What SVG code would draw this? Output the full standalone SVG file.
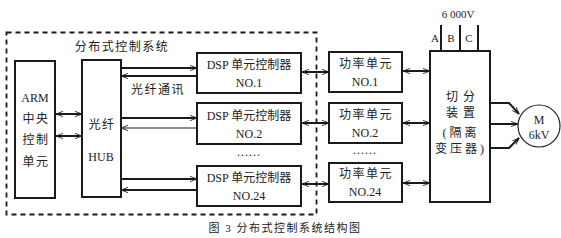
<svg xmlns="http://www.w3.org/2000/svg" width="561" height="238" viewBox="0 0 561 238">
<defs>
<marker id="ah" viewBox="0 0 8 8" refX="8" refY="4" markerWidth="7" markerHeight="7" markerUnits="userSpaceOnUse" orient="auto-start-reverse">
<path d="M0,1 L8,4 L0,7" fill="none" stroke="#222" stroke-width="1"/>
</marker>
</defs>
<style>
.box{fill:#fff;stroke:#1a1a1a;stroke-width:2}
.ln{fill:none;stroke:#1a1a1a;stroke-width:2}
.thin{fill:none;stroke:#1a1a1a;stroke-width:1.2}
.t{font-family:"Liberation Serif","Noto Sans CJK SC",serif;font-size:12px;fill:#222;text-anchor:middle}
.sp{letter-spacing:1.5px}
.dots{font-family:"Liberation Serif",serif;font-size:12px;fill:#222;text-anchor:middle;letter-spacing:1px}
</style>
<rect width="561" height="238" fill="#fff"/>
<rect x="6.5" y="32.5" width="310" height="182" fill="none" stroke="#1a1a1a" stroke-width="1.8" stroke-dasharray="5,4"/>
<text class="t sp" x="122" y="51">分布式控制系统</text>
<text class="t sp" x="158" y="94">光纤通讯</text>
<g id="connectors">
<path class="ln" d="M56,114 H82" marker-start="url(#ah)" marker-end="url(#ah)"/>
<path class="ln" d="M56,136 H82" marker-start="url(#ah)" marker-end="url(#ah)"/>
<path class="ln" d="M121,68 H197" marker-end="url(#ah)"/>
<path class="ln" d="M197,76 H121" marker-end="url(#ah)"/>
<path class="ln" d="M121,118 H197" marker-end="url(#ah)"/>
<path class="thin" d="M197,128 H121" marker-end="url(#ah)"/>
<path class="ln" d="M121,179 H197" marker-end="url(#ah)"/>
<path class="ln" d="M197,190 H121" marker-end="url(#ah)"/>
<path class="ln" d="M302,72 H329" marker-start="url(#ah)" marker-end="url(#ah)"/>
<path class="ln" d="M302,123 H329" marker-start="url(#ah)" marker-end="url(#ah)"/>
<path class="ln" d="M302,184 H329" marker-start="url(#ah)" marker-end="url(#ah)"/>
<path class="ln" d="M403,71 H430" marker-start="url(#ah)" marker-end="url(#ah)"/>
<path class="ln" d="M403,123 H430" marker-start="url(#ah)" marker-end="url(#ah)"/>
<path class="ln" d="M403,183 H430" marker-start="url(#ah)" marker-end="url(#ah)"/>
<path class="ln" d="M490,103 H509 L519,114" marker-end="url(#ah)"/>
<path class="ln" d="M490,124 H518" marker-end="url(#ah)"/>
<path class="ln" d="M490,148 H509 L519,138" marker-end="url(#ah)"/>
<path class="ln" d="M441,51 V25 M460,51 V25 M478,51 V25"/>
</g>
<g id="arm">
<rect class="box" x="15" y="61" width="40" height="137"/>
<text class="t" x="35" y="102">ARM</text>
<text class="t sp" x="36" y="123">中央</text>
<text class="t sp" x="36" y="144">控制</text>
<text class="t sp" x="36" y="166">单元</text>
</g>
<g id="hub">
<rect class="box" x="82" y="60" width="39" height="137"/>
<text class="t sp" x="102" y="129">光纤</text>
<text class="t" x="101" y="161">HUB</text>
</g>
<g id="dsp1">
<rect class="box" x="197" y="53" width="104" height="40"/>
<text class="t" x="249" y="69">DSP 单元控制器</text>
<text class="t" x="249" y="87">NO.1</text>
</g>
<g id="dsp2">
<rect class="box" x="197" y="103" width="104" height="41"/>
<text class="t" x="249" y="120">DSP 单元控制器</text>
<text class="t" x="249" y="138">NO.2</text>
</g>
<text class="dots" x="249" y="156">......</text>
<g id="dsp24">
<rect class="box" x="197" y="166" width="104" height="40"/>
<text class="t" x="249" y="182">DSP 单元控制器</text>
<text class="t" x="249" y="200">NO.24</text>
</g>
<g id="pu1">
<rect class="box" x="329" y="52" width="73" height="40"/>
<text class="t sp" x="366" y="68">功率单元</text>
<text class="t" x="365" y="86">NO.1</text>
</g>
<g id="pu2">
<rect class="box" x="329" y="103" width="73" height="40"/>
<text class="t sp" x="366" y="119">功率单元</text>
<text class="t" x="365" y="137">NO.2</text>
</g>
<text class="dots" x="365" y="154">......</text>
<g id="pu24">
<rect class="box" x="329" y="163" width="73" height="39"/>
<text class="t sp" x="366" y="178">功率单元</text>
<text class="t" x="365" y="196">NO.24</text>
</g>
<g id="switch">
<rect class="box" x="430" y="51" width="60" height="151"/>
<text class="t" x="463" y="101" style="letter-spacing:5px">切分</text>
<text class="t" x="463" y="117" style="letter-spacing:5px">装置</text>
<text class="t" x="461" y="137" style="letter-spacing:3px">(隔离</text>
<text class="t" x="461" y="153" style="letter-spacing:3px">变压器)</text>
</g>
<g id="source">
<text class="t" x="458" y="18" style="font-size:11px">6 000V</text>
<text class="t" x="435" y="42" style="font-size:11px">A</text>
<text class="t" x="451" y="42" style="font-size:11px">B</text>
<text class="t" x="469" y="42" style="font-size:11px">C</text>
</g>
<g id="motor">
<circle cx="539" cy="126" r="21" fill="#fff" stroke="#222" stroke-width="1.2"/>
<text class="t" x="539" y="124">M</text>
<text class="t" x="539" y="139">6kV</text>
</g>
<text class="t" x="285" y="232" style="font-size:11px;letter-spacing:1.5px">图 3 分布式控制系统结构图</text>
</svg>
